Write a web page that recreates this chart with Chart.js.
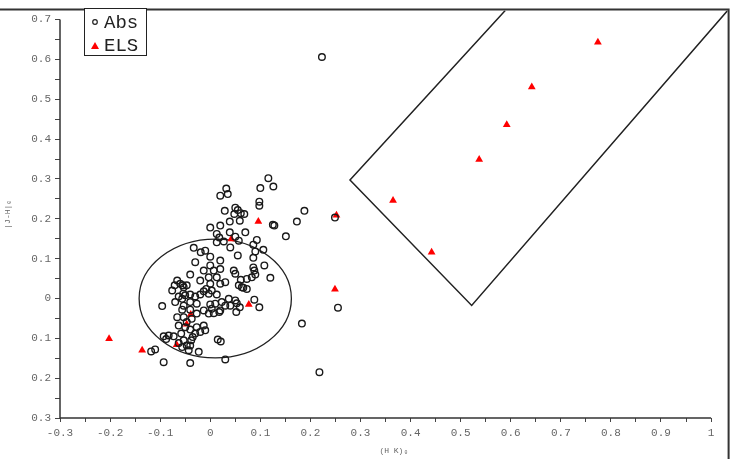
<!DOCTYPE html>
<html>
<head>
<meta charset="utf-8">
<script src="https://cdn.jsdelivr.net/npm/chart.js@4.4.1/dist/chart.umd.min.js"></script>
<style>
html, body { margin: 0; padding: 0; background: #fff; }
#wrap { width: 733px; height: 459px; }
</style>
</head>
<body>
<div id="wrap"><canvas id="c" width="733" height="459"></canvas></div>
<script>
// Abs sample (open circles)
const absX = [0.116,0.100,0.126,0.032,0.020,0.035,0.098,0.098,0.188,0.050,
  0.055,0.068,0.061,0.029,0.048,0.173,0.125,0.128,0.039,0.059,
  0.020,0.000,0.070,0.151,0.013,0.018,0.039,0.050,0.093,0.086,
  0.106,0.040,0.057,0.013,0.027,-0.033,-0.019,-0.010,0.000,0.020,
  0.055,0.090,0.086,0.108,-0.030,0.000,-0.013,0.007,0.013,0.020,
  0.047,0.050,0.086,0.088,0.083,0.090,0.120,0.073,-0.040,-0.020,
  -0.003,0.000,0.020,0.030,-0.066,-0.060,-0.055,0.061,0.057,0.066,
  0.073,0.063,-0.008,-0.013,-0.020,-0.030,-0.040,-0.050,-0.063,-0.070,
  -0.056,0.013,0.003,-0.003,-0.096,-0.053,-0.040,-0.027,0.000,0.010,
  0.023,0.037,0.050,0.030,0.040,0.053,0.059,0.088,0.098,-0.056,
  -0.066,-0.053,-0.040,-0.037,-0.027,-0.013,-0.003,0.007,0.018,0.003,
  0.020,0.052,-0.047,-0.063,-0.050,-0.040,-0.027,-0.013,-0.010,-0.020,
  -0.030,-0.035,-0.038,-0.040,-0.043,-0.023,-0.047,-0.053,-0.058,-0.073,
  -0.083,-0.093,-0.088,-0.063,-0.056,0.183,0.015,0.021,0.030,-0.118,
  -0.110,-0.093,-0.040,-0.071,-0.076,-0.054,-0.053,-0.047,
  0.223,0.249,0.255,0.218];
const absY = [0.302,0.277,0.281,0.276,0.258,0.262,0.243,0.233,0.220,0.228,
  0.222,0.212,0.214,0.220,0.212,0.193,0.185,0.183,0.193,0.195,
  0.183,0.178,0.166,0.156,0.162,0.153,0.166,0.155,0.147,0.135,
  0.122,0.128,0.145,0.141,0.143,0.127,0.116,0.120,0.105,0.095,
  0.108,0.118,0.102,0.083,0.091,0.083,0.070,0.070,0.053,0.074,
  0.070,0.062,0.078,0.070,0.053,0.060,0.052,0.049,0.060,0.045,
  0.053,0.037,0.037,0.041,0.045,0.037,0.033,0.047,0.033,0.027,
  0.024,0.028,0.024,0.018,0.010,0.005,0.010,0.008,0.005,-0.009,
  -0.001,0.010,0.020,0.012,-0.019,-0.018,-0.009,-0.013,-0.015,-0.013,
  -0.009,-0.001,-0.005,-0.018,-0.018,-0.012,-0.022,-0.003,-0.022,-0.028,
  -0.047,-0.047,-0.028,-0.051,-0.038,-0.030,-0.038,-0.037,-0.034,-0.026,
  -0.030,-0.034,-0.059,-0.068,-0.072,-0.078,-0.072,-0.068,-0.080,-0.084,
  -0.088,-0.097,-0.105,-0.118,-0.130,-0.134,-0.118,-0.105,-0.088,-0.095,
  -0.093,-0.095,-0.102,-0.112,-0.122,-0.063,-0.103,-0.108,-0.153,-0.133,
  -0.128,-0.160,-0.162,0.033,0.020,0.012,0.028,0.033,
  0.606,0.203,-0.023,-0.185];

// ELS sample (red triangles)
const elsX = [0.774,0.642,0.592,0.537,0.365,0.442,0.252,0.249,-0.202,-0.136,-0.067,-0.047,-0.039,0.077,0.096,0.042];
const elsY = [0.643,0.531,0.436,0.349,0.246,0.116,0.209,0.023,-0.101,-0.130,-0.116,-0.065,-0.040,-0.015,0.193,0.149];

// selection box outline (open polyline, runs off the frame)
const boxX = [0.589, 0.279, 0.522, 1.033];
const boxY = [0.7225, 0.2975, -0.0175, 0.7225];

// ellipse around the Abs locus
const ellCx = 0.01, ellCy = 0.0, ellRx = 0.152, ellRy = 0.149;

// ticks
const xTickValues = [-0.3,-0.2,-0.1,0,0.1,0.2,0.3,0.4,0.5,0.6,0.7,0.8,0.9,1];
const xTickLabels = ['-0.3','-0.2','-0.1','0','0.1','0.2','0.3','0.4','0.5','0.6','0.7','0.8','0.9','1'];
const yTickValues = [-0.3,-0.2,-0.1,0,0.1,0.2,0.3,0.4,0.5,0.6,0.7];
const yTickLabels = ['0.3','0.2','0.1','0','0.1','0.2','0.3','0.4','0.5','0.6','0.7'];

const labelFont = { family: '"Liberation Mono", monospace', size: 11 };
const titleFont = { family: '"Liberation Mono", monospace', size: 8 };

function withMinors(vals) {
    const out = [];
    vals.forEach((v, i) => {
        out.push({ value: v });
        if (i < vals.length - 1) out.push({ value: (v + vals[i + 1]) / 2 });
    });
    return out;
}
function labelFor(vals, labels, value) {
    const i = vals.findIndex(v => Math.abs(v - value) < 1e-6);
    return i >= 0 ? labels[i] : '';
}

// frame, axis lines, ellipse, legend
const decor = {
    id: 'decor',
    beforeDatasetsDraw(chart) {
        const { ctx, scales: { x, y } } = chart;
        ctx.save();
        ctx.strokeStyle = '#222';
        ctx.lineWidth = 1.3;
        ctx.beginPath();
        ctx.ellipse(x.getPixelForValue(ellCx), y.getPixelForValue(ellCy),
            x.getPixelForValue(ellCx + ellRx) - x.getPixelForValue(ellCx),
            y.getPixelForValue(ellCy) - y.getPixelForValue(ellCy + ellRy), 0, 0, Math.PI * 2);
        ctx.stroke();
        ctx.restore();
    },
    afterDraw(chart) {
        const { ctx, chartArea, scales: { x, y } } = chart;
        ctx.save();
        ctx.strokeStyle = '#333';
        ctx.lineWidth = 2;
        // outer frame (top and right)
        ctx.beginPath();
        ctx.moveTo(0, chartArea.top - 1);
        ctx.lineTo(chartArea.right + 1, chartArea.top - 1);
        ctx.lineTo(chartArea.right + 1, chart.height);
        ctx.stroke();
        // axes
        const x0 = x.getPixelForValue(-0.3), y0 = y.getPixelForValue(-0.3);
        ctx.lineWidth = 1.5;
        ctx.beginPath();
        ctx.moveTo(x0, y.getPixelForValue(0.7));
        ctx.lineTo(x0, y0);
        ctx.lineTo(x.getPixelForValue(1), y0);
        ctx.stroke();
        // legend box
        ctx.lineWidth = 1;
        ctx.strokeStyle = '#222';
        ctx.fillStyle = '#fff';
        ctx.fillRect(84, 8, 63, 48);
        ctx.strokeRect(84.5, 8.5, 62, 47);
        ctx.beginPath();
        ctx.lineWidth = 1.2;
        ctx.arc(95, 22, 2.3, 0, Math.PI * 2);
        ctx.stroke();
        ctx.fillStyle = '#ff0000';
        ctx.beginPath();
        ctx.moveTo(95, 42);
        ctx.lineTo(99, 49);
        ctx.lineTo(91, 49);
        ctx.closePath();
        ctx.fill();
        ctx.fillStyle = '#222';
        ctx.font = '19px "Liberation Mono", monospace';
        ctx.textBaseline = 'middle';
        ctx.fillText('Abs', 104, 23);
        ctx.fillText('ELS', 104, 46);
        ctx.restore();
    }
};

const ctx = document.getElementById('c').getContext('2d');
new Chart(ctx, {
    type: 'scatter',
    data: {
        datasets: [
            {
                label: 'Abs',
                data: absX.map((v, i) => ({ x: v, y: absY[i] })),
                pointStyle: 'circle',
                pointRadius: 3.3,
                borderColor: '#1a1a1a',
                borderWidth: 1.4,
                backgroundColor: 'rgba(0,0,0,0)'
            },
            {
                label: 'ELS',
                data: elsX.map((v, i) => ({ x: v, y: elsY[i] })),
                pointStyle: 'triangle',
                pointRadius: 4.5,
                borderColor: '#ff0000',
                borderWidth: 0,
                backgroundColor: '#ff0000'
            },
            {
                label: 'box',
                data: boxX.map((v, i) => ({ x: v, y: boxY[i] })),
                showLine: true,
                pointRadius: 0,
                borderColor: '#222',
                borderWidth: 1.5,
                fill: false
            }
        ]
    },
    options: {
        responsive: false,
        animation: false,
        devicePixelRatio: 1,
        layout: { padding: { left: 0, right: 5, top: 9, bottom: 0 } },
        plugins: { legend: { display: false }, tooltip: { enabled: false } },
        scales: {
            x: {
                type: 'linear',
                min: -0.3,
                max: 1.033,
                afterBuildTicks: s => { s.ticks = withMinors(xTickValues); },
                afterFit: s => { s.height = 41; },
                border: { display: false },
                grid: { drawOnChartArea: false, drawTicks: true, tickLength: 4, color: '#444', lineWidth: 1 },
                ticks: {
                    autoSkip: false, maxRotation: 0, padding: 4,
                    color: '#666', font: labelFont,
                    callback: v => labelFor(xTickValues, xTickLabels, v)
                },
                title: { display: true, text: '(H K)₀', color: '#666', font: titleFont, padding: { top: 0, bottom: 3 } }
            },
            y: {
                type: 'linear',
                min: -0.3,
                max: 0.7225,
                afterBuildTicks: s => { s.ticks = withMinors(yTickValues); },
                afterFit: s => { s.width = 60; },
                border: { display: false },
                grid: { drawOnChartArea: false, drawTicks: true, tickLength: 5, color: '#444', lineWidth: 1 },
                ticks: {
                    autoSkip: false, padding: 4,
                    color: '#666', font: labelFont,
                    callback: v => labelFor(yTickValues, yTickLabels, v)
                },
                title: { display: true, text: '|J-H|₀', color: '#666', font: titleFont, padding: { top: 3, bottom: 0 } }
            }
        }
    },
    plugins: [decor]
});
</script>
</body>
</html>
